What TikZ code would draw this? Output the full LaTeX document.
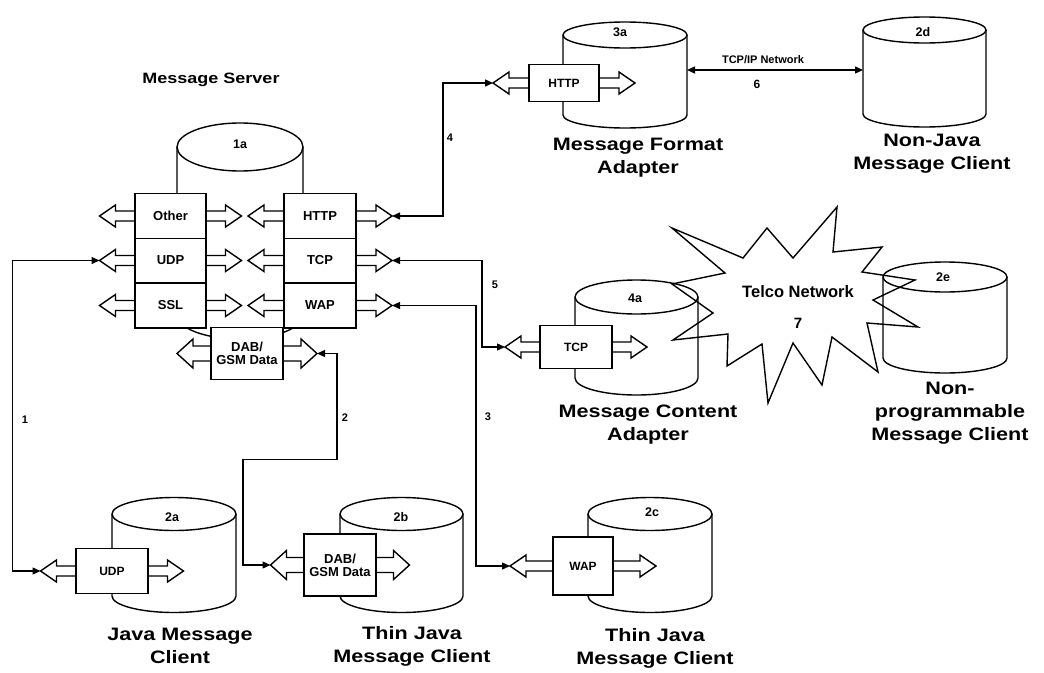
\documentclass[tikz,border=0pt]{standalone}
\usepackage{fontspec}
\setmainfont{Liberation Sans}
\newfontfamily\widefont[FakeStretch=1.2]{Liberation Sans Bold}
\usetikzlibrary{arrows.meta}
\tikzset{
    cylline/.style={line width=1.4pt},
    protoarrow/.style={line width=1.4pt, fill=white, line join=miter},
    protobox/.style={draw, line width=1.4pt, fill=white, inner sep=0pt, align=center, font=\boxfont\bfseries},
    link/.style={line width=1.4pt, {Triangle[length=8pt,width=7pt]}-{Triangle[length=8pt,width=7pt]}},
    burst/.style={line width=1.4pt, line join=miter},
    title/.style={font=\widefont\fontsize{18}{23}\selectfont, align=center},
    tag/.style={font=\fontsize{12.5}{14}\selectfont\bfseries},
    num/.style={font=\fontsize{11}{12}\selectfont\bfseries}
}
\def\boxfont{\fontsize{13}{14}\selectfont}
\def\headl{16}
\def\headh{11}
\def\shafth{5}
% cylinder: name, cx, rx, top cy, bottom cy, ry
\newcommand{\dbcyl}[6]{
    \fill[white] (#2-#3,#4) -- (#2-#3,#5) arc[start angle=180, end angle=0, x radius=#3, y radius=#6] -- (#2+#3,#4) -- cycle;
    \draw[cylline] (#2-#3,#4) -- (#2-#3,#5) arc[start angle=180, end angle=0, x radius=#3, y radius=#6] -- (#2+#3,#4);
    \draw[cylline, fill=white] (#2,#4) ellipse[x radius=#3, y radius=#6];
    \coordinate (#1) at (#2,#4);
}
% protocol: name, cx, cy, half length, box half width, box half height, label
\newcommand{\proto}[7]{
    \draw[protoarrow] (#2-#4,#3) -- (#2-#4+\headl,#3-\headh) -- (#2-#4+\headl,#3-\shafth) -- (#2+#4-\headl,#3-\shafth)
        -- (#2+#4-\headl,#3-\headh) -- (#2+#4,#3) -- (#2+#4-\headl,#3+\headh) -- (#2+#4-\headl,#3+\shafth)
        -- (#2-#4+\headl,#3+\shafth) -- (#2-#4+\headl,#3+\headh) -- cycle;
    \node[protobox, minimum width=2*#5, minimum height=2*#6] (#1) at (#2,#3) {#7};
    \coordinate (#1-l) at (#2-#4,#3);
    \coordinate (#1-r) at (#2+#4,#3);
}
\begin{document}
\begin{tikzpicture}[x=1pt, y=-1pt]
    \path[use as bounding box, fill=white] (0,0) rectangle (1044,672);
    % cylinders
    \dbcyl{srv}{240}{63}{147}{315}{24}
    \dbcyl{fmt}{625}{62}{35}{115}{13}
    \dbcyl{nonjava}{924.5}{61.5}{30}{114}{13}
    \dbcyl{content}{636.5}{61.5}{297}{378}{17}
    \dbcyl{nonprog}{945}{62}{277}{358}{15}
    \dbcyl{java}{174}{62}{514}{596}{16.5}
    \dbcyl{thinb}{401.5}{61.5}{514}{596}{16.5}
    \dbcyl{thinc}{650}{62}{514}{596}{16.5}
    \node[tag] (t1a) at (240,144) {1a};
    \node[tag] (t3a) at (620,32) {3a};
    \node[tag] (t2d) at (923,32) {2d};
    \node[tag] (t4a) at (635,298) {4a};
    \node[tag] (t2e) at (943,277) {2e};
    \node[tag] (t2a) at (172,517) {2a};
    \node[tag] (t2b) at (401,517) {2b};
    \node[tag] (t2c) at (652,512) {2c};
    % protocols of the server
    \proto{other}{170.5}{216}{71}{35.5}{22.3}{Other}
    \proto{udpS}{170.5}{260.5}{71}{35.5}{22.3}{UDP}
    \proto{ssl}{170.5}{305.5}{71}{35.5}{22.3}{SSL}
    \proto{httpS}{320}{216}{72}{36}{22.3}{HTTP}
    \proto{tcpS}{320}{260.5}{72}{36}{22.3}{TCP}
    \proto{wapS}{320}{305.5}{72}{36}{22.3}{WAP}
    % adapters and clients
    \def\boxfont{\fontsize{12}{13}\selectfont}
    \proto{http3a}{564}{83}{71}{35}{18.5}{HTTP}
    \proto{tcp4a}{576}{347}{71}{36}{21.5}{TCP}
    \proto{udp2a}{112}{571}{71.5}{36}{22.5}{UDP}
    \proto{wap2c}{583}{566}{73}{30}{29}{WAP}
    \def\headh{14.5}
    \def\shafth{7.5}
    \def\boxfont{\fontsize{13}{13}\selectfont}
    \proto{dabS}{247}{353.5}{70}{36}{26}{DAB/\\GSM Data}
    \proto{dab2b}{340}{565}{69.5}{36}{31}{DAB/\\GSM Data}
    % connectors
    \coordinate (tcpip-a) at (687,70);
    \coordinate (tcpip-b) at (863,70);
    \draw[link] (udpS-l) -- ++(-87,0) |- (udp2a-l);
    \draw[link] (dabS-r) -- ++(20,0) -- ++(0,106) -- ++(-94,0) |- (dab2b-l);
    \draw[link] (wapS-r) -- ++(84,0) |- (wap2c-l);
    \draw[link] (httpS-r) -- ++(51,0) |- (http3a-l);
    \draw[link] (tcpS-r) -- ++(90,0) |- (tcp4a-l);
    \draw[link] (tcpip-a) -- (tcpip-b);
    \node[num] (n1) at (25,420) {1};
    \node[num] (n2) at (345,418) {2};
    \node[num] (n3) at (488,417) {3};
    \node[num] (n4) at (450,138) {4};
    \node[num] (n5) at (495,285) {5};
    \node[num] (tcpip) at (763,60) {TCP/IP Network};
    \node[num, font=\fontsize{12}{13}\selectfont\bfseries] (n6) at (757,84) {6};
    % telco network
    \draw[burst] (672,228) -- (725,273) -- (672,284) -- (713,313) -- (673,340) -- (728,334) -- (727,366)
        -- (762,344) -- (768,403) -- (793,343) -- (822,385) -- (832,337) -- (878,372) -- (867,323)
        -- (918,327) -- (873,300) -- (915,280) -- (862,272) -- (882,247) -- (833,252) -- (837,207)
        -- (793,258) -- (767,228) -- (743,258) -- cycle;
    \node[font=\fontsize{16.5}{18}\selectfont\bfseries] (telco) at (798,292) {Telco Network};
    \node[font=\fontsize{15}{16}\selectfont\bfseries] (n7) at (798,323) {7};
    % titles
    \node[title, font=\widefont\fontsize{15}{18}\selectfont] (server) at (211,80) {Message Server};
    \node[title] (fmtname) at (638,158) {Message Format\\Adapter};
    \node[title] (nonjavaname) at (932,154) {Non-Java\\Message Client};
    \node[title] (contentname) at (648,425) {Message Content\\Adapter};
    \node[title] (nonprogname) at (950,413) {Non-\\programmable\\Message Client};
    \node[title] (javaname) at (180,646) {Java Message\\Client};
    \node[title] (thinbname) at (412,646) {Thin Java\\Message Client};
    \node[title] (thincname) at (655,648) {Thin Java\\Message Client};
\end{tikzpicture}
\end{document}
